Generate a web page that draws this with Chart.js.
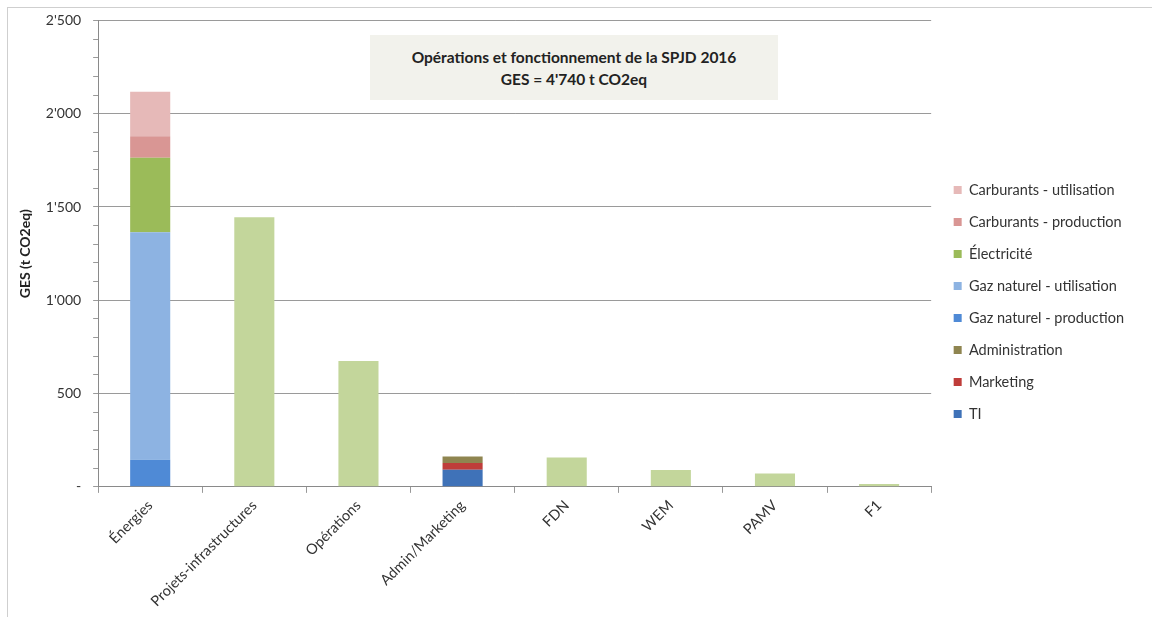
<!DOCTYPE html>
<html>
<head>
<meta charset="utf-8">
<script src="https://cdn.jsdelivr.net/npm/chart.js@4/dist/chart.umd.min.js"></script>
<style>
  body { margin: 0; background: #fff; }
  #wrap { position: relative; width: 1152px; height: 617px; }
  #frame { position: absolute; left: 7px; top: 7px; width: 1150px; height: 620px; border: 1px solid #cfcfcf; }
  #titleBox {
    position: absolute; left: 370px; top: 35px; width: 408px; height: 65px;
    background: #f2f2ec; font-family: Lato, "Open Sans", sans-serif; font-weight: bold;
    font-size: 15.5px; color: #222; text-align: center; line-height: 22px;
    padding-top: 11px; box-sizing: border-box;
  }
</style>
</head>
<body>
<div id="wrap">
  <div id="frame"></div>
  <canvas id="gesChart" width="1152" height="617"></canvas>
  <div id="titleBox">Opérations et fonctionnement de la SPJD 2016<br>GES = 4'740 t CO2eq</div>
</div>
<script>
// Catégories et valeurs (t CO2eq)
const categories = ["Énergies", "Projets-infrastructures", "Opérations", "Admin/Marketing", "FDN", "WEM", "PAMV", "F1"];
const ti = [null, null, null, 92, null, null, null, null];
const marketing = [null, null, null, 36, null, null, null, null];
const administration = [null, null, null, 35, null, null, null, null];
const gazProduction = [145, null, null, null, null, null, null, null];
const gazUtilisation = [1220, null, null, null, null, null, null, null];
const electricite = [399, null, null, null, null, null, null, null];
const carbProduction = [115, null, null, null, null, null, null, null];
const carbUtilisation = [238, null, null, null, null, null, null, null];
const autres = [null, 1445, 674, null, 158, 90, 72, 16];
const yTicks = [0, 500, 1000, 1500, 2000, 2500];

const fontFamily = "Lato, 'Open Sans', sans-serif";

function ds(label, data, color, hidden) {
  return {
    label: label,
    data: data,
    backgroundColor: color,
    borderWidth: 0,
    barPercentage: 0.385,
    categoryPercentage: 1,
    inLegend: !hidden,
  };
}

function formatTick(v) {
  if (v === 0) return "-";
  return String(v).replace(/\B(?=(\d{3})+(?!\d))/g, "'");
}

// décale la légende : un peu plus haut et plus à droite que Chart.js la place
const legendShift = {
  id: "legendShift",
  afterLayout(chart) {
    const lg = chart.legend;
    if (!lg) return;
    lg.bottom -= 29;
    lg.left += 5;
    lg.right += 5;
  },
};

const ctx = document.getElementById("gesChart").getContext("2d");
new Chart(ctx, {
  type: "bar",
  data: {
    labels: categories,
    datasets: [
      ds("TI", ti, "#3f72b8"),
      ds("Marketing", marketing, "#bf3d3a"),
      ds("Administration", administration, "#8f8550"),
      ds("Gaz naturel - production", gazProduction, "#4f8ad6"),
      ds("Gaz naturel - utilisation", gazUtilisation, "#8db3e2"),
      ds("Électricité", electricite, "#9bbb59"),
      ds("Carburants - production", carbProduction, "#d99694"),
      ds("Carburants - utilisation", carbUtilisation, "#e6b9b8"),
      ds("Autres", autres, "#c3d69b", true),
    ],
  },
  plugins: [legendShift],
  options: {
    responsive: false,
    animation: false,
    layout: { padding: { top: 19, right: 23, left: 17, bottom: 3 } },
    plugins: {
      tooltip: { enabled: false },
      legend: {
        position: "right",
        reverse: true,
        labels: {
          filter: (item, data) => data.datasets[item.datasetIndex].inLegend,
          boxWidth: 8,
          boxHeight: 8,
          padding: 17.5,
          color: "#333",
          font: { family: fontFamily, size: 14.5 },
        },
      },
    },
    scales: {
      x: {
        stacked: true,
        grid: { drawOnChartArea: false, offset: true, tickLength: 6, color: "#999" },
        border: { color: "#8a8a8a" },
        ticks: {
          maxRotation: 45,
          minRotation: 45,
          color: "#333",
          padding: 4,
          font: { family: fontFamily, size: 14.5 },
        },
      },
      y: {
        stacked: true,
        min: 0,
        max: 2500,
        title: {
          display: true,
          text: "GES (t CO2eq)",
          color: "#222",
          padding: 0,
          font: { family: fontFamily, size: 14, weight: "bold" },
        },
        grid: {
          color: (c) => (yTicks.includes(c.tick.value) ? "#9a9a9a" : "rgba(0,0,0,0)"),
          tickColor: "#9a9a9a",
          tickLength: 5,
        },
        border: { color: "#8a8a8a" },
        ticks: {
          stepSize: 100,
          autoSkip: false,
          padding: 12,
          color: "#333",
          font: { family: fontFamily, size: 14 },
          callback: (v) => (yTicks.includes(v) ? formatTick(v) : ""),
        },
      },
    },
  },
});
</script>
</body>
</html>
